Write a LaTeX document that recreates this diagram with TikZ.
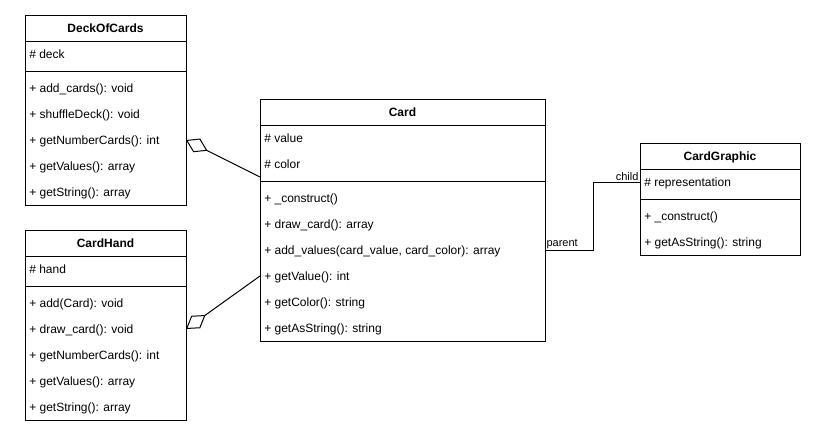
\documentclass[tikz,border=0pt]{standalone}
\usepackage{fontspec}
\setmainfont{Liberation Sans}
\usetikzlibrary{arrows.meta,calc}
\begin{document}
\begin{tikzpicture}[x=0.75pt,y=-0.75pt,
  box/.style={draw,line width=0.75pt,inner sep=0,outer sep=0,anchor=north west},
  ttl/.style={font=\fontsize{9}{11}\selectfont\bfseries,inner sep=0,text height=8pt,text depth=0.7pt},
  row/.style={font=\fontsize{9}{11}\selectfont,inner sep=0,anchor=west,text height=8pt,text depth=0.7pt},
  sep/.style={line width=0.75pt},
  agg/.style={line width=0.75pt,-{Diamond[open,length=18pt,width=11.5pt]}},
  lbl/.style={font=\fontsize{8.25}{10}\selectfont,inner sep=1pt}]
\useasboundingbox (0,0) rectangle (826,443);

% DeckOfCards
\node[box,minimum width=120.75pt,minimum height=142.5pt] (deck) at (25,15) {};
\node[ttl] (deckT) at ($(deck.north)+(0,13)$) {DeckOfCards};
\draw[sep] ($(deck.north west)+(0,26)$) -- ($(deck.north east)+(0,26)$);
\draw[sep] ($(deck.north west)+(0,56)$) -- ($(deck.north east)+(0,56)$);
\node[row] (deckA1) at ($(deck.north west)+(4,39)$) {\# deck};
\node[row] (deckM1) at ($(deck.north west)+(4,73)$) {+ add\_cards(): void};
\node[row] (deckM2) at ($(deck.north west)+(4,99)$) {+ shuffleDeck(): void};
\node[row] (deckM3) at ($(deck.north west)+(4,125)$) {+ getNumberCards(): int};
\node[row] (deckM4) at ($(deck.north west)+(4,151)$) {+ getValues(): array};
\node[row] (deckM5) at ($(deck.north west)+(4,177)$) {+ getString(): array};

% CardHand
\node[box,minimum width=120.75pt,minimum height=142.5pt] (hand) at (25,230) {};
\node[ttl] (handT) at ($(hand.north)+(0,13)$) {CardHand};
\draw[sep] ($(hand.north west)+(0,26)$) -- ($(hand.north east)+(0,26)$);
\draw[sep] ($(hand.north west)+(0,56)$) -- ($(hand.north east)+(0,56)$);
\node[row] (handA1) at ($(hand.north west)+(4,39)$) {\# hand};
\node[row] (handM1) at ($(hand.north west)+(4,73)$) {+ add(Card): void};
\node[row] (handM2) at ($(hand.north west)+(4,99)$) {+ draw\_card(): void};
\node[row] (handM3) at ($(hand.north west)+(4,125)$) {+ getNumberCards(): int};
\node[row] (handM4) at ($(hand.north west)+(4,151)$) {+ getValues(): array};
\node[row] (handM5) at ($(hand.north west)+(4,177)$) {+ getString(): array};

% Card
\node[box,minimum width=213.75pt,minimum height=181.5pt] (card) at (260,99) {};
\node[ttl] (cardT) at ($(card.north)+(0,13)$) {Card};
\draw[sep] ($(card.north west)+(0,26)$) -- ($(card.north east)+(0,26)$);
\draw[sep] ($(card.north west)+(0,82)$) -- ($(card.north east)+(0,82)$);
\node[row] (cardA1) at ($(card.north west)+(4,39)$) {\# value};
\node[row] (cardA2) at ($(card.north west)+(4,65)$) {\# color};
\node[row] (cardM1) at ($(card.north west)+(4,99)$) {+ \_construct()};
\node[row] (cardM2) at ($(card.north west)+(4,125)$) {+ draw\_card(): array};
\node[row] (cardM3) at ($(card.north west)+(4,151)$) {+ add\_values(card\_value, card\_color): array};
\node[row] (cardM4) at ($(card.north west)+(4,177)$) {+ getValue(): int};
\node[row] (cardM5) at ($(card.north west)+(4,203)$) {+ getColor(): string};
\node[row] (cardM6) at ($(card.north west)+(4,229)$) {+ getAsString(): string};

% CardGraphic
\node[box,minimum width=120pt,minimum height=84pt] (graphic) at (640,143) {};
\node[ttl] (graphicT) at ($(graphic.north)+(0,13)$) {CardGraphic};
\draw[sep] ($(graphic.north west)+(0,26)$) -- ($(graphic.north east)+(0,26)$);
\draw[sep] ($(graphic.north west)+(0,56)$) -- ($(graphic.north east)+(0,56)$);
\node[row] (graphicA1) at ($(graphic.north west)+(4,39)$) {\# representation};
\node[row] (graphicM1) at ($(graphic.north west)+(4,73)$) {+ \_construct()};
\node[row] (graphicM2) at ($(graphic.north west)+(4,99)$) {+ getAsString(): string};

% Aggregations
\draw[agg] ($(card.north west)+(0,78)$) -- (deck.east |- deckM3);
\draw[agg] (card.west |- cardM4) -- (hand.east |- handM2);

% Association
\draw[sep] (card.east |- cardM3) -- ++(48,0) |- (graphic.west |- graphicA1);
\node[lbl,anchor=south west] (lblParent) at (card.east |- cardM3) {parent};
\node[lbl,anchor=south east] (lblChild) at (graphic.west |- graphicA1) {child};
\end{tikzpicture}
\end{document}
